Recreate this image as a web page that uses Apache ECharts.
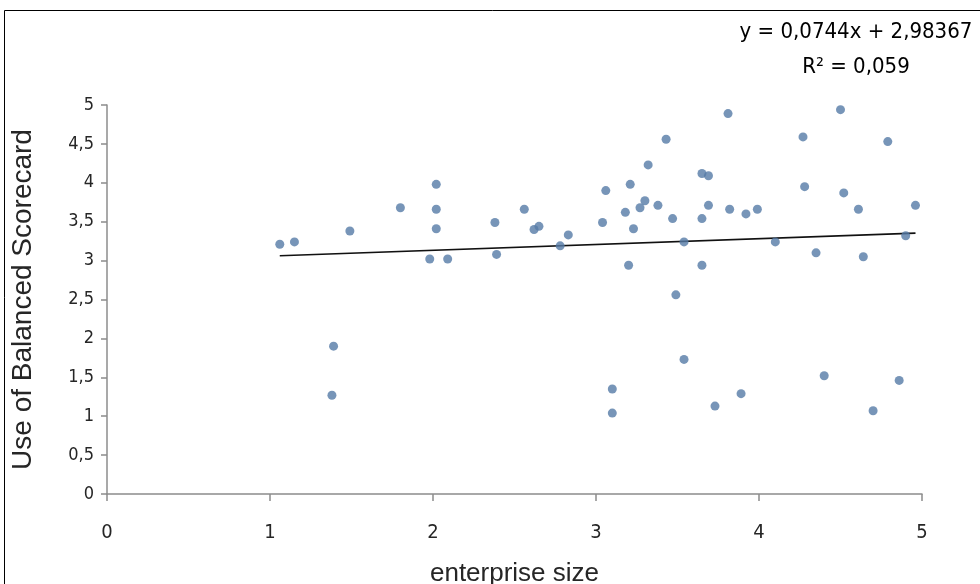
<!DOCTYPE html>
<html>
<head>
<meta charset="utf-8">
<script src="https://cdn.jsdelivr.net/npm/echarts@6/dist/echarts.min.js"></script>
<style>
  html, body { margin: 0; padding: 0; background: #fff; }
  #chart { width: 980px; height: 584px; }
</style>
</head>
<body>
<div id="chart"></div>
<script>
// enterprise size / use of balanced scorecard
var sizeX = [1.06, 1.15, 1.49, 1.80, 1.39, 1.38, 2.02, 2.02, 2.02, 1.98, 2.09, 2.38, 2.39, 2.56, 2.62, 2.65,
  2.78, 2.83, 3.04, 3.06, 3.10, 3.10, 3.18, 3.20, 3.21, 3.23, 3.27, 3.30, 3.32, 3.38, 3.43, 3.47, 3.49,
  3.54, 3.54, 3.81, 3.65, 3.69, 3.69, 3.65, 3.82, 3.92, 3.99, 3.65, 3.73, 3.89, 4.10, 4.27, 4.28, 4.35,
  4.40, 4.50, 4.52, 4.61, 4.64, 4.70, 4.79, 4.86, 4.90, 4.96];
var scoreY = [3.21, 3.24, 3.38, 3.68, 1.90, 1.27, 3.98, 3.66, 3.41, 3.02, 3.02, 3.49, 3.08, 3.66, 3.40, 3.44,
  3.19, 3.33, 3.49, 3.90, 1.35, 1.04, 3.62, 2.94, 3.98, 3.41, 3.68, 3.77, 4.23, 3.71, 4.56, 3.54, 2.56,
  3.24, 1.73, 4.89, 4.12, 4.09, 3.71, 3.54, 3.66, 3.60, 3.66, 2.94, 1.13, 1.29, 3.24, 4.59, 3.95, 3.10,
  1.52, 4.94, 3.87, 3.66, 3.05, 1.07, 4.53, 1.46, 3.32, 3.71];
// linear trend line end points
var trendX = [1.06, 4.96];
var trendY = [3.062, 3.353];
var eqText = 'y = 0,0744x + 2,98367';
var r2Text = 'R\u00b2 = 0,059';

var points = [];
for (var i = 0; i < sizeX.length; i++) {
  points.push([sizeX[i], scoreY[i]]);
}
var trend = [];
for (var j = 0; j < trendX.length; j++) {
  trend.push([trendX[j], trendY[j]]);
}

function comma(v) {
  return String(v).replace('.', ',');
}

var narrow = '"DejaVu Sans Condensed", "Liberation Sans Narrow", sans-serif';

var myChart = echarts.init(document.getElementById('chart'));
var option = {
  animation: false,
  backgroundColor: '#fff',
  grid: { left: 107, right: 58, top: 105, bottom: 90, containLabel: false, outerBoundsMode: 'none' },
  xAxis: {
    type: 'value',
    min: 0,
    max: 5,
    interval: 1,
    name: 'enterprise size',
    nameLocation: 'middle',
    nameGap: 67,
    nameTextStyle: { fontFamily: 'Liberation Sans', fontSize: 26, color: '#262626' },
    axisLine: { lineStyle: { color: '#8c8c8c', width: 1.5 } },
    axisTick: { show: true, length: 7, lineStyle: { color: '#8c8c8c', width: 1.5 } },
    splitLine: { show: false },
    axisLabel: { fontFamily: narrow, fontSize: 20, color: '#262626', margin: 29, formatter: comma }
  },
  yAxis: {
    type: 'value',
    min: 0,
    max: 5,
    interval: 0.5,
    name: 'Use of Balanced Scorecard',
    nameLocation: 'middle',
    nameGap: 70,
    nameTextStyle: { fontFamily: 'Liberation Sans', fontSize: 28, color: '#262626' },
    axisLine: { show: true, lineStyle: { color: '#8c8c8c', width: 1.5 } },
    axisTick: { show: true, length: 6, lineStyle: { color: '#8c8c8c', width: 1.5 } },
    splitLine: { show: false },
    axisLabel: { fontFamily: narrow, fontSize: 18, color: '#262626', margin: 13, formatter: comma }
  },
  graphic: [
    { type: 'rect', shape: { x: 4.5, y: 10.5, width: 1000, height: 1000 }, style: { fill: 'none', stroke: '#000', lineWidth: 1 }, silent: true },
    { type: 'text', x: 856, y: 32, style: { text: eqText, font: '22px ' + narrow, fill: '#000', align: 'center', verticalAlign: 'middle' } },
    { type: 'text', x: 856, y: 67, style: { text: r2Text, font: '22px ' + narrow, fill: '#000', align: 'center', verticalAlign: 'middle' } }
  ],
  series: [
    {
      name: 'scorecard',
      type: 'scatter',
      data: points,
      symbol: 'circle',
      symbolSize: 9,
      itemStyle: { color: '#557aa6' }
    },
    {
      name: 'trend',
      type: 'line',
      data: trend,
      symbol: 'none',
      lineStyle: { color: '#111', width: 1.6 },
      z: 1
    }
  ]
};
myChart.setOption(option);
</script>
</body>
</html>
